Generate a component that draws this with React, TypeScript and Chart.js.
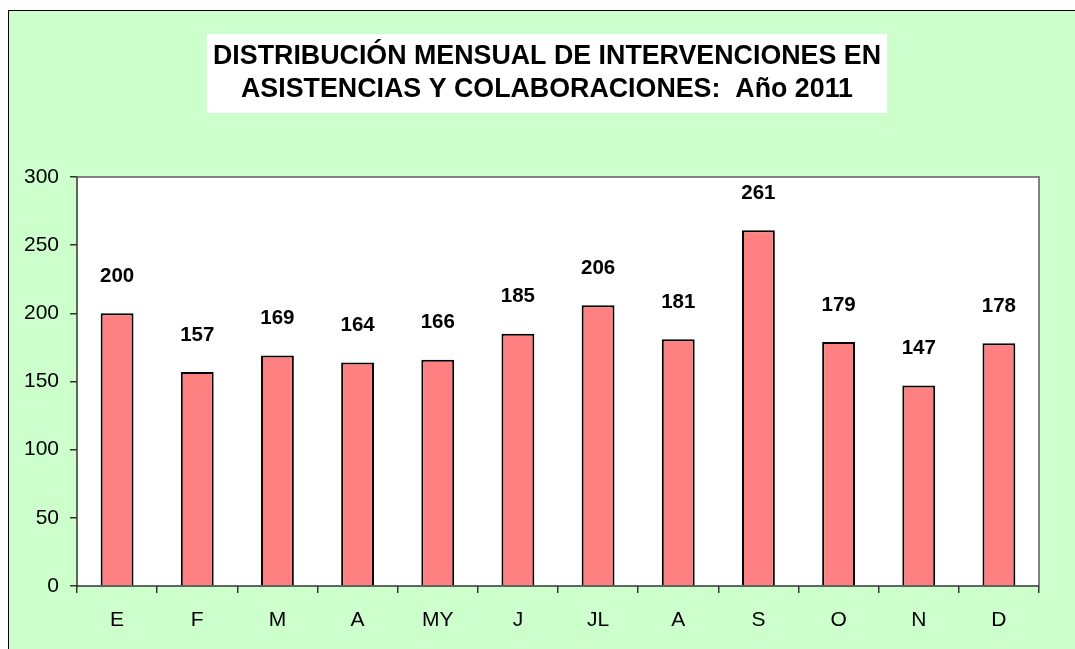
import React, { useEffect, useRef } from "react";
import { Chart, registerables } from "chart.js";

Chart.register(...registerables);

const categories = ["E", "F", "M", "A", "MY", "J", "JL", "A", "S", "O", "N", "D"];
const values = [200, 157, 169, 164, 166, 185, 206, 181, 261, 179, 147, 178];
const titleLines = [
  "DISTRIBUCIÓN MENSUAL DE INTERVENCIONES EN",
  "ASISTENCIAS Y COLABORACIONES:  Año 2011",
];
const yMin = 0;
const yMax = 300;
const yStep = 50;

const FONT = "'Liberation Sans', Arial, sans-serif";

const chartDecor = {
  id: "chartDecor",
  beforeDatasetsDraw(chart: any) {
    const { ctx, chartArea } = chart;
    ctx.save();
    ctx.fillStyle = "#FFFFFF";
    ctx.fillRect(chartArea.left, chartArea.top, chartArea.right - chartArea.left, chartArea.bottom - chartArea.top);
    ctx.restore();
  },
  afterDatasetsDraw(chart: any) {
    const { ctx, chartArea } = chart;
    ctx.save();
    // plot border (gray)
    ctx.strokeStyle = "#808080";
    ctx.lineWidth = 2;
    ctx.beginPath();
    ctx.moveTo(chartArea.left, chartArea.top);
    ctx.lineTo(chartArea.right, chartArea.top);
    ctx.lineTo(chartArea.right, chartArea.bottom);
    ctx.stroke();
    // axes (dark)
    ctx.strokeStyle = "#333333";
    ctx.lineWidth = 1.5;
    ctx.beginPath();
    ctx.moveTo(chartArea.left, chartArea.top);
    ctx.lineTo(chartArea.left, chartArea.bottom);
    ctx.lineTo(chartArea.right, chartArea.bottom);
    ctx.stroke();

    // data labels
    ctx.fillStyle = "#000000";
    ctx.font = "bold 20.5px " + FONT;
    ctx.textAlign = "center";
    ctx.textBaseline = "middle";
    const meta = chart.getDatasetMeta(0);
    meta.data.forEach((bar: any, i: number) => {
      ctx.fillText(String(chart.data.datasets[0].data[i]), bar.x, bar.y - 37);
    });

    // title box
    ctx.font = "bold 26.8px " + FONT;
    const cx = 538;
    const w = Math.max(...titleLines.map((t) => ctx.measureText(t).width));
    ctx.fillStyle = "#FFFFFF";
    ctx.fillRect(cx - w / 2 - 6, 23, w + 12, 79);
    ctx.fillStyle = "#000000";
    titleLines.forEach((t, i) => {
      ctx.fillText(t, cx, 46 + i * 33);
    });
    ctx.restore();
  },
};

export default function App() {
  const ref = useRef<HTMLCanvasElement | null>(null);

  useEffect(() => {
    if (!ref.current) return;
    const chart = new Chart(ref.current, {
      type: "bar",
      data: {
        labels: categories,
        datasets: [
          {
            data: values,
            backgroundColor: "#FF8080",
            borderColor: "#000000",
            borderWidth: 2,
            barPercentage: 0.41,
            categoryPercentage: 1,
          },
        ],
      },
      options: {
        animation: false,
        responsive: true,
        maintainAspectRatio: false,
        layout: { padding: { left: 0, right: 36, top: 166, bottom: 0 } },
        plugins: {
          legend: { display: false },
          title: { display: false },
          tooltip: { enabled: false },
        },
        scales: {
          x: {
            offset: true,
            border: { display: false },
            grid: {
              offset: true,
              drawOnChartArea: false,
              drawTicks: true,
              tickLength: 7,
              color: "#333333",
              lineWidth: 1.5,
            },
            ticks: {
              color: "#000000",
              font: { family: FONT, size: 21 },
              padding: 15,
              maxRotation: 0,
            },
            afterFit(axis: any) {
              axis.height = 63;
            },
          },
          y: {
            min: yMin,
            max: yMax,
            border: { display: false },
            grid: {
              drawOnChartArea: false,
              drawTicks: true,
              tickLength: 7,
              color: "#333333",
              lineWidth: 1.5,
            },
            ticks: {
              stepSize: yStep,
              color: "#000000",
              font: { family: FONT, size: 21 },
              padding: 11,
            },
            afterFit(axis: any) {
              axis.width = 68;
            },
          },
        },
      },
      plugins: [chartDecor],
    });
    return () => chart.destroy();
  }, []);

  return (
    <div
      style={{
        position: "fixed",
        left: 8,
        top: 10,
        width: 1090,
        height: 660,
        boxSizing: "border-box",
        background: "#CCFFCC",
        borderLeft: "1px solid #000",
        borderTop: "1px solid #000",
        overflow: "hidden",
      }}
    >
      <div style={{ position: "relative", width: 1066, height: 638 }}>
        <canvas ref={ref} />
      </div>
    </div>
  );
}
